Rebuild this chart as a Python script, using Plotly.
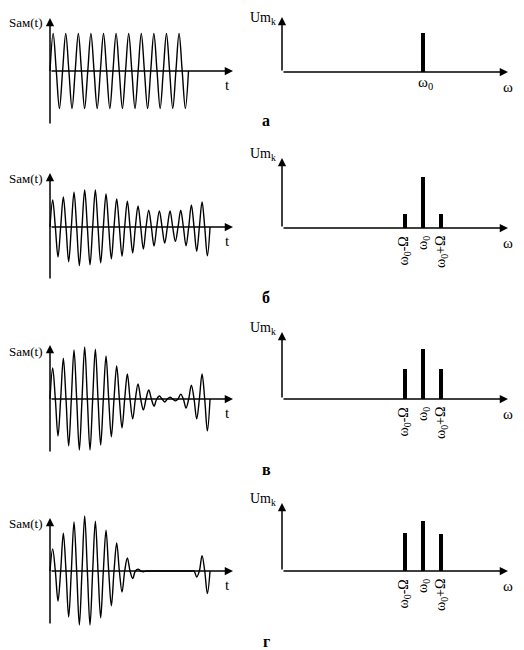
import plotly.graph_objects as go

# The page body has an 8px margin, so the figure is drawn 8px in from the
# window corner; all layout pixel positions below are window pixels.
OFF = 8
W, H = 524 - OFF, 650 - OFF

# ------------------------------------------------------------------ data
panel_letters = ["а", "б", "в", "г"]

# carrier period of the AM signal in each row (time units)
carrier_period = [1.18, 1.0, 1.0, 1.0]

# amplitude of every half-period extremum of S_am(t) (alternating +/-)
sig_a = [1.00, -1.00, 1.00, -1.00, 1.00, -1.00, 1.00, -1.00, 1.00, -1.00, 1.00,
         -1.00, 1.00, -1.00, 1.00, -1.00, 1.00, -1.00, 1.00, -1.00, 1.00, -1.00]
sig_b = [0.72, -0.80, 0.80, -0.93, 0.93, -1.03, 0.99, -1.01, 0.99, -0.96,
         0.88, -0.85, 0.75, -0.78, 0.69, -0.69, 0.56, -0.59, 0.45, -0.51,
         0.43, -0.43, 0.43, -0.38, 0.45, -0.50, 0.59, -0.65, 0.67, -0.77]
sig_v = [0.83, -0.99, 1.09, -1.25, 1.31, -1.36, 1.39, -1.36, 1.33, -1.23,
         1.15, -1.01, 0.88, -0.77, 0.67, -0.53, 0.40, -0.29, 0.24, -0.19,
         0.08, -0.08, 0.05, -0.05, 0.13, -0.24, 0.37, -0.53, 0.67, -0.85]
sig_g = [0.59, -0.80, 1.01, -1.23, 1.31, -1.44, 1.47, -1.44, 1.33, -1.25,
         1.09, -0.93, 0.75, -0.56, 0.35, -0.20, 0.05, -0.02, 0.00, 0.00,
         0.00, 0.00, 0.00, 0.00, 0.00, 0.00, 0.00, -0.16, 0.41, -0.60]
signals = [sig_a, sig_b, sig_v, sig_g]

# spectra
omega0 = 10.0
Omega = 1.28
spec_freq_a = [omega0]
spec_amp_a = [0.78]
spec_freq = [omega0 - Omega, omega0, omega0 + Omega]
spec_amp_b = [0.28, 1.02, 0.28]
spec_amp_v = [0.60, 1.00, 0.60]
spec_amp_g = [0.76, 1.00, 0.74]
spectra = [(spec_freq_a, spec_amp_a), (spec_freq, spec_amp_b),
           (spec_freq, spec_amp_v), (spec_freq, spec_amp_g)]
side_labels = ["ω<sub>0</sub>-Ω", "ω<sub>0</sub>", "ω<sub>0</sub>+Ω"]

# ------------------------------------------------------------------ layout constants (window pixels)
FONT = "'Liberation Serif', 'Times New Roman', serif"
L_OX = 50
L_OY = [71, 227, 399, 571]
L_TOP = [18, 173, 345, 518]
L_BOT = [125, 280, 453, 625]
L_END = 233
L_SX, L_SY = 10.67, 37.5

R_OX = 282
R_OY = [72, 228, 399, 571]
R_TOP = [17, 158, 332, 503]
R_END = 508
R_SX, R_SY = 14.1, 50.0

fig = go.Figure()
layout = dict(width=W, height=H, margin=dict(l=0, r=0, t=0, b=0),
              paper_bgcolor="white", plot_bgcolor="rgba(0,0,0,0)",
              showlegend=False, bargap=0)
annotations = []


def px2x(px):
    return (px - OFF) / W


def py2y(py):
    return 1 - (py - OFF) / H


def axis_setup(n, ox, oy, sx, sy, left, right, top, bottom):
    xr = [(left - ox) / sx, (right - ox) / sx]
    yr = [(oy - bottom) / sy, (oy - top) / sy]
    sfx = "" if n == 1 else str(n)
    layout["xaxis" + sfx] = dict(domain=[px2x(left), px2x(right)], range=xr,
                                 visible=False, fixedrange=True,
                                 anchor="y" + sfx)
    layout["yaxis" + sfx] = dict(domain=[py2y(bottom), py2y(top)], range=yr,
                                 visible=False, fixedrange=True,
                                 anchor="x" + sfx)
    return "x" + sfx, "y" + sfx


def arrow(xref, yref, x0, y0, x1, y1):
    annotations.append(dict(x=x1, y=y1, ax=x0, ay=y0, xref=xref, yref=yref,
                            axref=xref, ayref=yref, text="", showarrow=True,
                            arrowhead=2, arrowsize=1.1, arrowwidth=1.5,
                            arrowcolor="black", standoff=0, startstandoff=0))


def text(px, py, s, size=15, xanchor="center", yanchor="middle", angle=0, bold=False):
    if bold:
        s = "<b>" + s + "</b>"
    annotations.append(dict(x=px2x(px), y=py2y(py), xref="paper", yref="paper",
                            text=s, showarrow=False, xanchor=xanchor,
                            yanchor=yanchor, textangle=angle, borderpad=0,
                            font=dict(family=FONT, size=size, color="black")))


for i in range(4):
    # ---- time-domain signal
    xr, yr = axis_setup(2 * i + 1, L_OX, L_OY[i], L_SX, L_SY,
                        L_OX - 8, L_END + 8, L_OY[i] - 60, L_OY[i] + 60)
    P = carrier_period[i]
    ts, vs = [0.0], [0.0]
    for k, a in enumerate(signals[i]):
        ts.append((k + 0.5) * P / 2)
        vs.append(a)
        ts.append((k + 1) * P / 2)
        vs.append(0.0)
    fig.add_trace(go.Scatter(x=ts, y=vs, mode="lines", xaxis=xr, yaxis=yr,
                             line=dict(color="black", width=1.4,
                                       shape="spline", smoothing=1.0),
                             hoverinfo="skip"))
    arrow(xr, yr, 0, (L_OY[i] - L_BOT[i]) / L_SY, 0, (L_OY[i] - L_TOP[i]) / L_SY)
    arrow(xr, yr, 0, 0, (L_END - L_OX) / L_SX, 0)
    text(8, L_OY[i] - 48, "Sам(t)", size=13, xanchor="left")
    text(227, L_OY[i] + 14, "t")

    # ---- spectrum
    xr2, yr2 = axis_setup(2 * i + 2, R_OX, R_OY[i], R_SX, R_SY,
                          R_OX - 6, R_END + 8, R_TOP[i] - 4, R_OY[i] + 4)
    f, a = spectra[i]
    fig.add_trace(go.Bar(x=f, y=a, xaxis=xr2, yaxis=yr2, width=0.26,
                         marker=dict(color="black", line=dict(width=0)),
                         hoverinfo="skip"))
    arrow(xr2, yr2, 0, 0, 0, (R_OY[i] - R_TOP[i]) / R_SY)
    arrow(xr2, yr2, 0, 0, (R_END - R_OX) / R_SX, 0)
    text(277, max(R_TOP[i] - 13, OFF + 1), "Um<sub>k</sub>", size=14,
         xanchor="right", yanchor="top")
    text(508, R_OY[i] + 15, "ω", size=15)
    text(266, R_OY[i] + 48 if i == 0 else R_OY[i] + 70, panel_letters[i], size=16, bold=True)
    if i == 0:
        text(R_OX + omega0 * R_SX + 2, R_OY[i] + 11, "ω<sub>0</sub>", size=15)
    else:
        for fq, lab in zip(f, side_labels):
            text(R_OX + fq * R_SX, R_OY[i] + 7, lab, size=14,
                 yanchor="top", angle=-90)

layout["annotations"] = annotations
fig.update_layout(**layout)
fig.write_html("out.html")
